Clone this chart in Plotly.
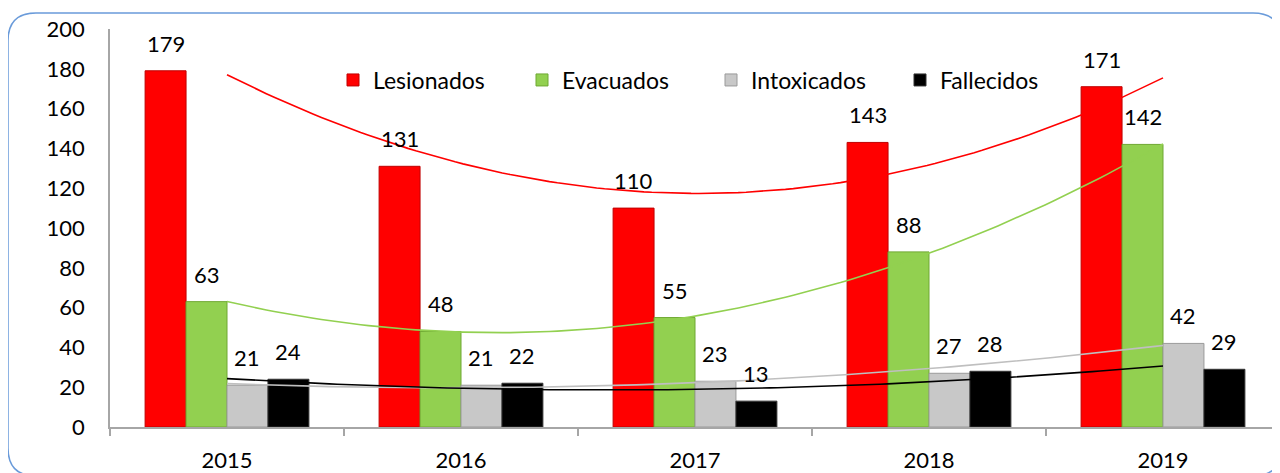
import numpy as np
import plotly.graph_objects as go

years = ["2015", "2016", "2017", "2018", "2019"]
lesionados = [179, 131, 110, 143, 171]
evacuados = [63, 48, 55, 88, 142]
intoxicados = [21, 21, 23, 27, 42]
fallecidos = [24, 22, 13, 28, 29]

series = [
    ("Lesionados", lesionados, "#FF0000", "#C00000", "#FF0000"),
    ("Evacuados", evacuados, "#92D050", "#6FA832", "#92D050"),
    ("Intoxicados", intoxicados, "#C8C8C8", "#9A9A9A", "#BFBFBF"),
    ("Fallecidos", fallecidos, "#000000", "#333333", "#000000"),
]

FONT = "Lato"
W, H = 1280, 473
OFF = 8  # page body margin of the browser
# plot area wanted on screen: x 110..1280, y 29..427
ML, MR, MT, MB = 110 - OFF, OFF, 29 - OFF, H - (427 - OFF)
BARGAP = 0.3

idx = np.arange(len(years))
fig = go.Figure()

for name, vals, col, edge, _ in series:
    fig.add_trace(go.Bar(
        x=idx, y=vals, name=name,
        marker=dict(color=col, line=dict(color=edge, width=1)),
    ))

# polynomial (order 2) trendlines like the excel ones
xs = np.linspace(0, len(years) - 1, 120)
for name, vals, _, _, lcol in series:
    coef = np.polyfit(idx, vals, 2)
    fig.add_trace(go.Scatter(
        x=xs, y=np.polyval(coef, xs), mode="lines",
        line=dict(color=lcol, width=1.6), showlegend=False, hoverinfo="skip",
    ))

# value labels above bars
n = len(series)
bw = (1 - BARGAP) / n
for k, (name, vals, _, _, _) in enumerate(series):
    off = -(1 - BARGAP) / 2 + bw * (k + 0.5)
    for i, v in enumerate(vals):
        fig.add_annotation(
            x=i + off, y=v, text=str(v), showarrow=False,
            xref="x", yref="y", yanchor="bottom", yshift=12,
            font=dict(family=FONT, size=22, color="black"),
        )

# rounded frame (screen pixel coords -> paper)
pw, ph = W - ML - MR, H - MT - MB
def px(x):
    return (x - OFF - ML) / pw
def py(y):
    return (H - MB - (y - OFF)) / ph

x0, x1, y0, y1, r = 8, 1281, 13, 476, 28
path = (
    f"M {px(x0 + r)},{py(y0)} L {px(x1 - r)},{py(y0)} "
    f"Q {px(x1)},{py(y0)} {px(x1)},{py(y0 + r)} L {px(x1)},{py(y1 - r)} "
    f"Q {px(x1)},{py(y1)} {px(x1 - r)},{py(y1)} L {px(x0 + r)},{py(y1)} "
    f"Q {px(x0)},{py(y1)} {px(x0)},{py(y1 - r)} L {px(x0)},{py(y0 + r)} "
    f"Q {px(x0)},{py(y0)} {px(x0 + r)},{py(y0)} Z"
)
fig.add_shape(type="path", path=path, xref="paper", yref="paper",
              line=dict(color="#6A9BDA", width=1.5), layer="below")

bounds = [i - 0.5 for i in range(len(years) + 1)]

fig.update_layout(
    width=W, height=H,
    margin=dict(l=ML, r=MR, t=MT, b=MB, autoexpand=False),
    paper_bgcolor="white", plot_bgcolor="white",
    barmode="group", bargap=BARGAP, bargroupgap=0,
    font=dict(family=FONT, size=22, color="black"),
    showlegend=True,
    legend=dict(
        orientation="h", x=px(333), y=py(80), xanchor="left", yanchor="middle",
        entrywidth=144, font=dict(family=FONT, size=23), bgcolor="rgba(0,0,0,0)",
        traceorder="normal",
    ),
    xaxis=dict(
        range=[-0.5, len(years) - 0.5], tickvals=list(idx), ticktext=years,
        ticks="", showline=True, linecolor="#A6A6A6", linewidth=1.5,
        showgrid=False, zeroline=False, ticklabelstandoff=13, automargin=False,
        tickfont=dict(family=FONT, size=22),
        minor=dict(tickvals=bounds, ticks="outside", ticklen=7,
                   tickcolor="#A6A6A6", tickwidth=1.5, showgrid=False),
    ),
    xaxis2=dict(
        overlaying="x", matches="x", anchor="y", side="bottom",
        tickvals=bounds, ticks="inside", ticklen=9, tickcolor="#A6A6A6",
        tickwidth=1.5, showticklabels=False, showline=False,
        showgrid=False, zeroline=False, automargin=False,
    ),
    yaxis=dict(
        range=[0, 200], tickvals=list(range(0, 201, 20)), ticks="",
        showline=True, linecolor="#A6A6A6", linewidth=1.5,
        showgrid=False, zeroline=False, ticklabelstandoff=19, automargin=False,
        tickfont=dict(family=FONT, size=22),
    ),
)

fig.write_html("out.html")
